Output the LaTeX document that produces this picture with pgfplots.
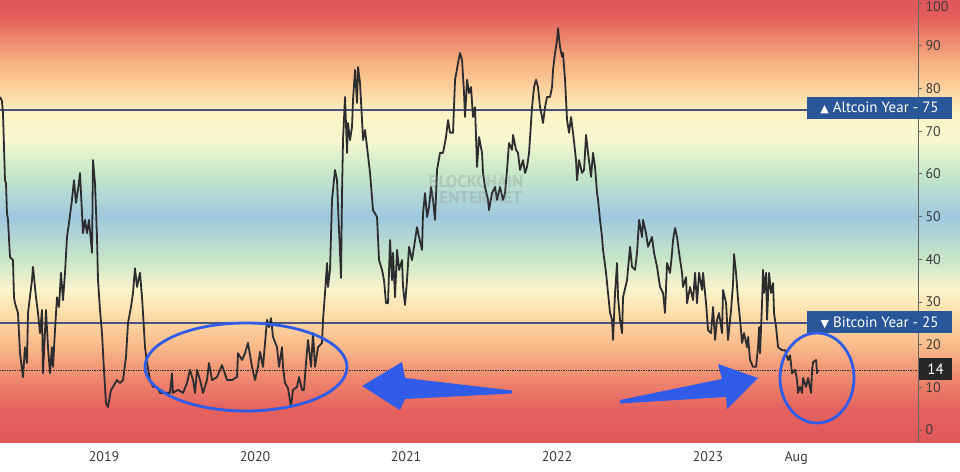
\documentclass[border=0pt]{standalone}
\usepackage{pgfplots}
\pgfplotsset{compat=1.18}
\usepackage{pgfplotstable}
\usepackage{fontspec}
\setmainfont{PT Sans}
\newfontfamily\dejavu{DejaVu Sans}

\definecolor{bgA}{RGB}{224,88,90}
\definecolor{bgB}{RGB}{228,98,95}
\definecolor{bgC}{RGB}{238,135,110}
\definecolor{bgD}{RGB}{249,188,140}
\definecolor{bgE}{RGB}{252,220,168}
\definecolor{bgF}{RGB}{250,245,205}
\definecolor{bgG}{RGB}{200,230,200}
\definecolor{bgH}{RGB}{160,200,222}
\definecolor{bgI}{RGB}{198,231,202}
\definecolor{bgJ}{RGB}{246,248,208}
\definecolor{bgK}{RGB}{252,244,198}
\definecolor{bgL}{RGB}{252,210,158}
\definecolor{bgM}{RGB}{246,178,130}
\definecolor{bgN}{RGB}{236,132,108}
\definecolor{bgO}{RGB}{226,94,92}
\definecolor{bgP}{RGB}{224,86,90}
\definecolor{linegray}{RGB}{45,45,47}
\definecolor{lineblue}{RGB}{72,84,128}
\definecolor{boxblue}{RGB}{40,86,152}
\definecolor{axisgray}{RGB}{100,100,100}
\definecolor{labelgray}{RGB}{60,60,60}
\definecolor{annblue}{RGB}{48,92,232}

\pgfdeclareverticalshading{bgshade}{100bp}{color(0bp)=(bgA); color(25bp)=(bgA); color(28.77bp)=(bgB); color(32.15bp)=(bgC); color(36.01bp)=(bgD); color(39.40bp)=(bgE); color(42.29bp)=(bgF); color(45.68bp)=(bgG); color(50.51bp)=(bgH); color(55.34bp)=(bgI); color(59.20bp)=(bgJ); color(62.10bp)=(bgK); color(65.00bp)=(bgL); color(67.90bp)=(bgM); color(70.80bp)=(bgN); color(73.21bp)=(bgO); color(75bp)=(bgP); color(100bp)=(bgP)}

\pgfplotstableread{
px v
0 78.0
2 77.0
3 74.2
5 58.5
6 57.8
7 50.8
8 49.2
10 40.5
13 39.8
14 31.1
15 29.7
18 27.4
20 18.0
23 12.4
25 19.4
27 15.7
28 27.4
32 35.1
33 38.2
36 31.1
38 27.4
40 22.7
42 28.1
43 13.3
46 28.1
48 19.4
50 13.3
52 19.4
53 14.8
55 23.4
57 31.1
59 28.8
61 36.8
63 30.4
65 36.8
67 45.2
69 48.5
72 53.9
74 58.5
76 53.2
78 56.2
80 60.2
82 50.8
83 46.1
85 49.2
87 46.1
89 49.2
92 41.5
93 63.2
95 57.8
97 45.2
98 35.1
100 28.1
102 22.7
104 14.1
106 6.3
108 5.4
111 9.4
113 10.1
117 11.7
120 11.0
123 11.7
126 17.1
128 25.1
131 28.8
133 32.1
135 37.9
137 33.5
140 36.8
142 31.1
143 27.4
145 19.4
147 15.7
150 11.7
153 10.1
157 10.1
160 8.7
170 8.7
172 13.3
173 8.7
178 9.4
183 8.7
187 11.0
190 14.1
193 11.7
195 8.7
197 14.1
200 11.7
203 8.7
207 11.7
209 15.7
212 11.7
217 12.4
222 15.2
227 11.7
232 11.7
237 12.4
238 18.0
242 16.4
245 18.0
248 20.4
252 14.8
255 11.7
258 14.8
260 18.3
263 14.8
267 25.8
269 24.1
271 26.2
273 21.8
277 19.4
279 14.8
282 19.4
283 14.8
285 11.0
288 9.8
291 5.4
293 9.4
297 10.1
299 12.4
302 9.4
304 9.4
306 15.7
308 21.1
311 14.8
313 22.7
315 14.8
318 19.4
322 20.4
323 25.8
325 32.1
327 39.1
328 33.5
330 37.5
332 53.9
335 60.9
337 58.5
338 52.2
340 41.5
341 35.6
342 55.5
343 67.9
345 78.0
347 64.9
348 71.9
350 67.9
352 71.0
353 77.3
355 84.3
357 76.6
358 85.0
360 81.3
362 72.6
363 67.9
365 70.3
367 66.3
370 60.2
373 51.5
377 49.9
379 39.8
382 37.5
384 35.1
386 29.7
388 29.7
390 44.5
392 35.1
393 41.5
395 31.1
397 42.2
399 37.5
402 39.8
403 33.5
405 29.3
407 35.1
409 42.9
412 39.8
414 42.9
417 47.5
419 45.2
422 42.2
423 50.8
425 55.5
427 49.9
429 52.2
431 56.9
433 53.9
435 49.2
437 60.9
440 64.9
443 64.9
446 68.6
448 72.6
450 69.6
453 69.6
455 82.0
458 85.9
460 88.3
462 86.7
464 78.9
465 73.3
467 82.0
469 78.9
471 80.3
473 73.3
475 75.6
477 61.6
479 68.6
482 64.9
483 60.2
485 56.9
488 53.9
489 51.5
492 55.5
495 56.9
497 53.9
500 56.9
503 53.9
505 55.5
507 60.9
509 67.2
512 65.6
513 69.1
516 65.6
518 64.9
520 60.9
523 63.2
525 60.2
527 61.6
529 64.9
532 75.6
534 80.3
536 82.0
538 80.3
540 75.6
542 73.3
543 71.9
545 75.6
547 78.0
550 78.0
552 80.3
553 84.3
555 88.3
557 91.3
558 94.1
560 89.7
562 87.4
563 88.3
565 82.0
567 72.6
569 69.6
571 73.3
573 69.6
576 63.2
577 58.5
579 63.2
582 60.2
584 60.9
586 69.1
588 64.9
591 59.3
593 64.9
595 61.6
597 55.5
598 53.9
600 49.2
602 45.2
603 42.2
606 36.8
608 32.1
610 27.4
612 25.8
613 21.1
615 32.1
617 39.1
618 31.1
620 25.8
622 22.7
623 31.1
627 35.1
630 42.9
632 38.2
635 37.5
637 41.5
639 49.2
642 45.2
643 49.2
646 46.1
648 42.9
652 45.2
654 41.5
657 38.2
660 33.5
663 32.1
665 27.4
667 39.1
670 36.8
672 41.5
673 44.5
675 47.3
677 45.2
679 41.5
682 36.8
683 33.5
686 35.8
687 29.7
690 33.5
693 30.4
695 36.8
697 29.7
699 36.8
702 32.8
703 36.8
706 29.7
708 23.4
711 22.7
713 28.8
715 21.1
717 25.8
719 27.4
722 22.7
723 32.8
726 29.7
728 21.1
731 28.1
733 34.4
734 41.2
736 36.8
738 30.4
740 25.8
742 20.4
744 22.7
747 19.4
748 21.8
750 16.4
753 14.8
756 14.8
758 19.4
759 24.1
760 18.0
762 29.7
763 37.5
764 32.1
766 36.8
767 25.8
769 36.8
771 32.1
773 34.4
774 27.4
776 24.1
778 19.4
782 18.7
785 18.7
788 16.4
790 17.5
792 13.3
795 14.1
797 11.7
798 8.7
800 10.1
802 8.7
803 12.2
806 10.1
808 12.2
811 8.7
812 14.1
813 15.9
816 16.4
817 13.3
818 14.1
}\seasonindex

\begin{document}
\begin{tikzpicture}[x=1pt,y=1pt]
\useasboundingbox (0,0) rectangle (960,471);
\shade[shading=bgshade] (0,29) rectangle (960,471);
\begin{axis}[
  at={(0pt,29pt)}, anchor=south west,
  scale only axis, width=918pt, height=442pt,
  xmin=2018.311, xmax=2024.39, ymin=-2.8, ymax=100.7,
  axis x line*=bottom, axis y line*=right,
  x axis line style={draw=none},
  y axis line style={-, draw=axisgray, line width=0.8pt},
  xtick={2019,2020,2021,2022,2023,2023.583},
  xticklabels={2019,2020,2021,2022,2023,Aug},
  xtick style={draw=none},
  ytick={0,10,20,30,40,50,60,70,80,90},
  extra y ticks={100},
  extra y tick style={yticklabel style={yshift=-3.5pt}},
  ytick style={draw=axisgray, line width=0.8pt},
  major tick length=4pt,
  tick align=outside,
  /pgf/number format/assume math mode=true,
  /pgf/number format/1000 sep={},
  yticklabel style={font=\fontsize{14}{14}\selectfont, text=labelgray},
  xticklabel style={font=\fontsize{14}{14}\selectfont, text=labelgray, yshift=-2pt},
]
\addplot[lineblue, line width=1.6pt] coordinates {(2018.311,75) (2024.39,75)};
\addplot[lineblue, line width=1.6pt] coordinates {(2018.311,25) (2024.39,25)};
\addplot[linegray, line width=0.7pt, densely dotted] coordinates {(2018.311,14) (2024.39,14)};
\addplot[linegray, line width=1.8pt, line join=round] table[x expr=\thisrow{px}/151+2018.311, y=v] {\seasonindex};
\end{axis}
% watermark
\node[align=center, text=gray, opacity=0.25, font=\bfseries\fontsize{17}{16}\selectfont] at (476,281) {BLOCKCHAIN\\CENTER.NET};
% level boxes
\node[fill=boxblue, text=white, minimum width=145pt, minimum height=22pt, inner sep=0pt, font=\fontsize{15}{15}\selectfont] at (879.5,363) {{\dejavu\fontsize{11}{11}\selectfont ▲}\ Altcoin Year - 75};
\node[fill=boxblue, text=white, minimum width=145pt, minimum height=22pt, inner sep=0pt, font=\fontsize{15}{15}\selectfont] at (879.5,148.5) {{\dejavu\fontsize{11}{11}\selectfont ▼}\ Bitcoin Year - 25};
\node[fill=black!85, text=white, minimum width=33pt, minimum height=22pt, inner sep=0pt, font=\fontsize{15}{15}\selectfont] at (935.5,102) {14};
% annotations
\draw[annblue, line width=2.8pt] (246,104) ellipse [x radius=101, y radius=44];
\draw[annblue, line width=2.8pt] (817,93) ellipse [x radius=37, y radius=45];
\fill[annblue] (512,80.5) -- (405,93) -- (402,109) -- (362,85) -- (400,61) -- (405,72) -- (512,77.5) -- cycle;
\fill[annblue] (620,71) -- (722,92) -- (718,107) -- (758,93) -- (727,62) -- (726,74) -- (620,67.5) -- cycle;
\end{tikzpicture}
\end{document}
